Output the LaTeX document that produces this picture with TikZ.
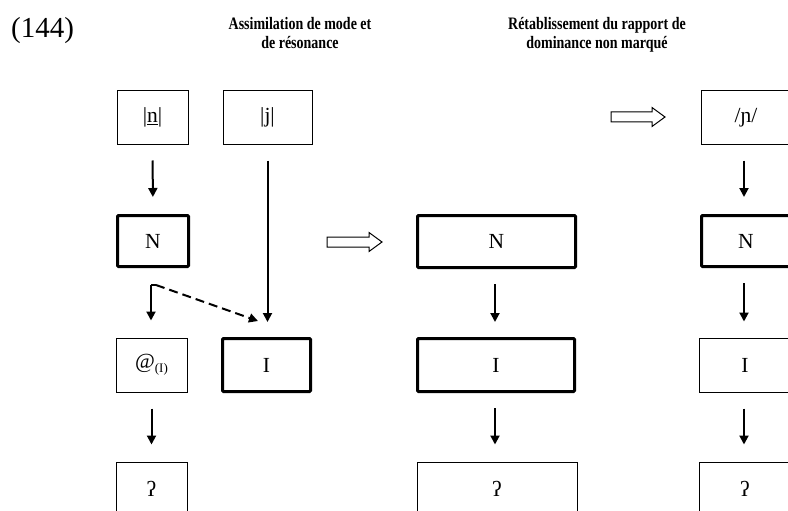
\documentclass[tikz,border=0pt]{standalone}
\usepackage{fontspec}
\setmainfont{Liberation Serif}
\newfontfamily\headfont[FakeStretch=0.8]{Liberation Serif Bold}
\usetikzlibrary{arrows.meta}
\begin{document}
\begin{tikzpicture}[x=1pt,y=-1pt,
  thinbox/.style={draw, line width=1pt, inner sep=0pt, font=\fontsize{21.5}{24}\selectfont},
  thickbox/.style={draw, line width=3pt, rounded corners=1pt, inner sep=0pt, font=\fontsize{21.5}{24}\selectfont},
  arr/.style={line width=2pt, -{Triangle[length=9pt,width=9pt]}},
  dasharr/.style={line width=2pt, dash pattern=on 9pt off 5pt, -{Triangle[length=9pt,width=9pt]}},
  hollow/.style={draw, line width=1pt, fill=white},
  head/.style={font=\headfont\fontsize{17.5}{19}\selectfont, align=center, inner sep=0pt, anchor=north}
]
\useasboundingbox (0,0) rectangle (788,511);
\clip (0,0) rectangle (788,511);

% title and headers
\node[font=\fontsize{29}{30}\selectfont, anchor=base west, inner sep=0pt] (num) at (11,38) {(144)};
\node[head] (h1) at (300,17) {Assimilation de mode et\\de résonance};
\node[head] (h2) at (597,17) {Rétablissement du rapport de\\dominance non marqué};

% left column
\node[thinbox, minimum width=71pt, minimum height=53pt] (n) at (152.5,117.5) {|\underline{n}|};
\node[thinbox, minimum width=89pt, minimum height=53pt] (j) at (267.5,117.5) {|j|};
\node[thickbox, minimum width=71pt, minimum height=51pt] (N1) at (153,241) {N};
\node[thinbox, minimum width=71pt, minimum height=54pt] (at) at (151.5,365) {@\raisebox{-4pt}{\fontsize{13}{13}\selectfont(I)}};
\node[thickbox, minimum width=88pt, minimum height=53pt] (I1) at (266.5,365) {I};
\node[thinbox, minimum width=71pt, minimum height=54pt] (q1) at (151.5,489) {ʔ};

\draw[arr, shorten <=16pt, shorten >=17pt] (n.south) -- (N1.north);
\draw[arr, shorten <=16pt, shorten >=15pt] (j.south) -- (j.south |- I1.north);
\coordinate (br) at (151,285);
\coordinate (dt) at (258,321);
\draw[arr, shorten >=17pt] (br) -- (br |- at.north);
\draw[line width=2pt] (br) -- ++(5,0);
\draw[dasharr] ([xshift=5pt]br) -- (dt);
\draw[arr, shorten <=16pt, shorten >=17pt] (at.south) -- (q1.north);

% middle column
\path[hollow] (327,237) -- (369,237) -- (369,232.5) -- (382,242) -- (369,251.5) -- (369,247) -- (327,247) -- cycle;
\node[thickbox, minimum width=158pt, minimum height=52pt] (N2) at (496.5,241.5) {N};
\node[thickbox, minimum width=157pt, minimum height=53pt] (I2) at (496,365) {I};
\node[thinbox, minimum width=160pt, minimum height=54pt] (q2) at (497,489) {ʔ};
\draw[arr, shorten <=15pt, shorten >=15pt] (N2.south -| 495,0) -- (I2.north -| 495,0);
\draw[arr, shorten <=15pt, shorten >=17pt] (I2.south -| 495,0) -- (q2.north -| 495,0);

% right column
\path[hollow] (611,112) -- (652,112) -- (652,107.5) -- (665,117) -- (652,126.5) -- (652,122) -- (611,122) -- cycle;
\node[thinbox, minimum width=89pt, minimum height=53pt] (P) at (746,117.5) {/ɲ/};
\node[thickbox, minimum width=89pt, minimum height=51pt] (N3) at (746,241) {N};
\node[thinbox, minimum width=92pt, minimum height=54pt] (I3) at (745,365) {I};
\node[thinbox, minimum width=92pt, minimum height=54pt] (q3) at (745,489) {ʔ};
\draw[arr, shorten <=16pt, shorten >=17pt] (P.south -| 744,0) -- (N3.north -| 744,0);
\draw[arr, shorten <=15pt, shorten >=16pt] (N3.south -| 744,0) -- (I3.north -| 744,0);
\draw[arr, shorten <=16pt, shorten >=17pt] (I3.south -| 744,0) -- (q3.north -| 744,0);
\end{tikzpicture}
\end{document}
